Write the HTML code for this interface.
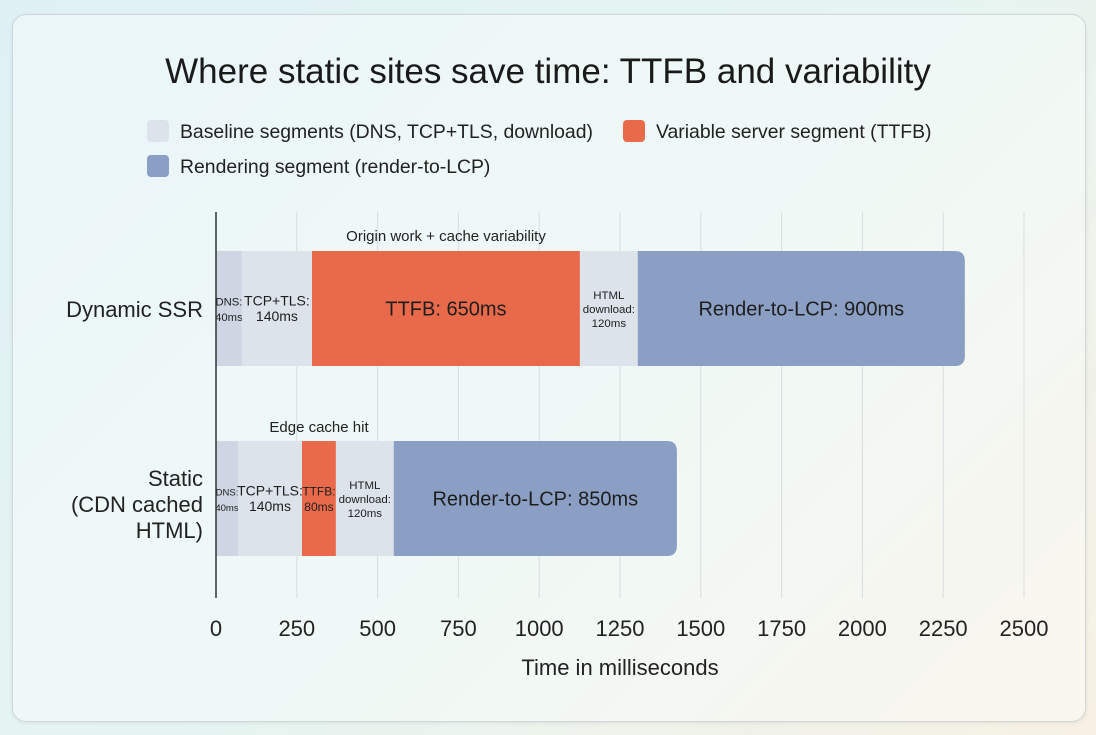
<!DOCTYPE html>
<html><head><meta charset="utf-8"><style>
html,body{margin:0;padding:0;width:1096px;height:735px;overflow:hidden;font-family:"Liberation Sans",sans-serif;}
body{background:linear-gradient(135deg,#dff1f5 0%,#e6f5f2 50%,#f7f1e4 100%);}
.card{position:absolute;left:12px;top:14px;width:1072px;height:706px;border-radius:14px;background:rgba(255,255,255,0.35);border:1px solid rgba(200,205,210,0.8);box-shadow:0 1px 4px rgba(0,0,0,0.08);}
</style></head><body>
<div class="card"></div>
<svg id="chart" width="1096" height="735" style="position:absolute;left:0;top:0">
<text x="548" y="83" text-anchor="middle" font-size="35" fill="#1a1a1a">Where static sites save time: TTFB and variability</text>
<g>
<g><rect x="147" y="120" width="22" height="22" rx="4" fill="#dde3ea"/><text x="180" y="138" font-size="19.4" fill="#222">Baseline segments (DNS, TCP+TLS, download)</text></g>
<g><rect x="623" y="120" width="22" height="22" rx="4" fill="#e96a4a"/><text x="656" y="138" font-size="19.4" fill="#222">Variable server segment (TTFB)</text></g>
<g><rect x="147" y="155" width="22" height="22" rx="4" fill="#8a9fc3"/><text x="180" y="173" font-size="19.4" fill="#222">Rendering segment (render-to-LCP)</text></g>
</g>
<g id="grid"></g><g id="bars"></g><g id="axis"></g>
</svg>
<script>
const categories = ["Dynamic SSR", "Static (CDN cached HTML)"];
const segTypes = ["base","base","ttfb","base","render"];
const dynamicValues = [80, 217, 829, 179, 1012];
const staticValues = [68, 198, 105, 179, 876];
const dynamicLabels = [["DNS:","40ms"],["TCP+TLS:","140ms"],["TTFB: 650ms"],["HTML","download:","120ms"],["Render-to-LCP: 900ms"]];
const staticLabels = [["DNS:","40ms"],["TCP+TLS:","140ms"],["TTFB:","80ms"],["HTML","download:","120ms"],["Render-to-LCP: 850ms"]];
const tickValues = [0,250,500,750,1000,1250,1500,1750,2000,2250,2500];
const annotations = ["Origin work + cache variability","Edge cache hit"];

const NS="http://www.w3.org/2000/svg";
const x0=216, pxPer=808/2500;
function xs(v){return x0+v*pxPer;}
const rowTop=[251,441], barH=115;
const colors={base:"#dde3ea",ttfb:"#e96a4a",render:"#8a9fc3"};
function mk(tag,attrs,parent){const e=document.createElementNS(NS,tag);for(const k in attrs)e.setAttribute(k,attrs[k]);parent.appendChild(e);return e;}
const grid=document.getElementById('grid'),bars=document.getElementById('bars'),axis=document.getElementById('axis');
tickValues.forEach(t=>{
  if(t>0){const l=mk('line',{x1:xs(t),x2:xs(t),y1:212,y2:598,stroke:"#d8dde0","stroke-width":1},grid);
  
  }
  const tx=mk('text',{x:xs(t),y:636,"text-anchor":"middle","font-size":22,fill:"#222"},axis);
  tx.textContent=t;
  
  
});
const al=mk('line',{x1:x0,x2:x0,y1:212,y2:598,stroke:"#333","stroke-width":1.5},axis);


const xt=mk('text',{x:620,y:675,"text-anchor":"middle","font-size":22,fill:"#222"},axis);
xt.textContent="Time in milliseconds";


const c1=mk('text',{x:203,y:317,"text-anchor":"end","font-size":22,fill:"#222"},axis);
c1.textContent=categories[0];


const c2=mk('text',{x:203,y:486,"text-anchor":"end","font-size":22,fill:"#222"},axis);


[["Static",0],["(CDN cached",26],["HTML)",52]].forEach(([s,dy])=>{const t=mk('tspan',{x:203,y:486+dy},c2);t.textContent=s;});

[dynamicValues,staticValues].forEach((vals,r)=>{
  const labels=r===0?dynamicLabels:staticLabels;
  let acc=0;
  const top=rowTop[r];
  vals.forEach((v,i)=>{
    const xa=xs(acc),xb=xs(acc+v);acc+=v;
    const type=segTypes[i];
    let fill=colors[type]; if(i===0) fill="#cdd6e2";
    let el;
    if(i===vals.length-1){
      const rr=10;
      el=mk('path',{d:`M${xa},${top}H${xb-rr}Q${xb},${top} ${xb},${top+rr}V${top+barH-rr}Q${xb},${top+barH} ${xb-rr},${top+barH}H${xa}Z`,fill:fill},bars);
    } else el=mk('rect',{x:xa,y:top,width:xb-xa,height:barH,fill:fill},bars);
    
    
    const lab=labels[i];const big=lab.length===1;
    const fs=big?20:(lab.length===3?12.5:14);
    const lh=fs*1.12;
    const cy=top+barH/2;
    const t=mk('text',{"text-anchor":"middle","font-size":fs,fill:"#1e1e1e"},bars);
    if(!big){const w=xb-xa;const maxw=Math.max(...lab.map(s=>s.length))*fs*0.55;if(maxw>w-1)t.setAttribute('font-size',fs*(w-1)/maxw);}
    
    
    lab.forEach((s,k)=>{const sp=mk('tspan',{x:(xa+xb)/2,y:cy+fs*0.35+(k-(lab.length-1)/2)*lh},t);sp.textContent=s;});
  });
});
const a1=mk('text',{x:446,y:241,"text-anchor":"middle","font-size":15,fill:"#222"},bars);
a1.textContent=annotations[0];


const a2=mk('text',{x:319,y:432,"text-anchor":"middle","font-size":15,fill:"#222"},bars);
a2.textContent=annotations[1];


</script>
</body></html>
